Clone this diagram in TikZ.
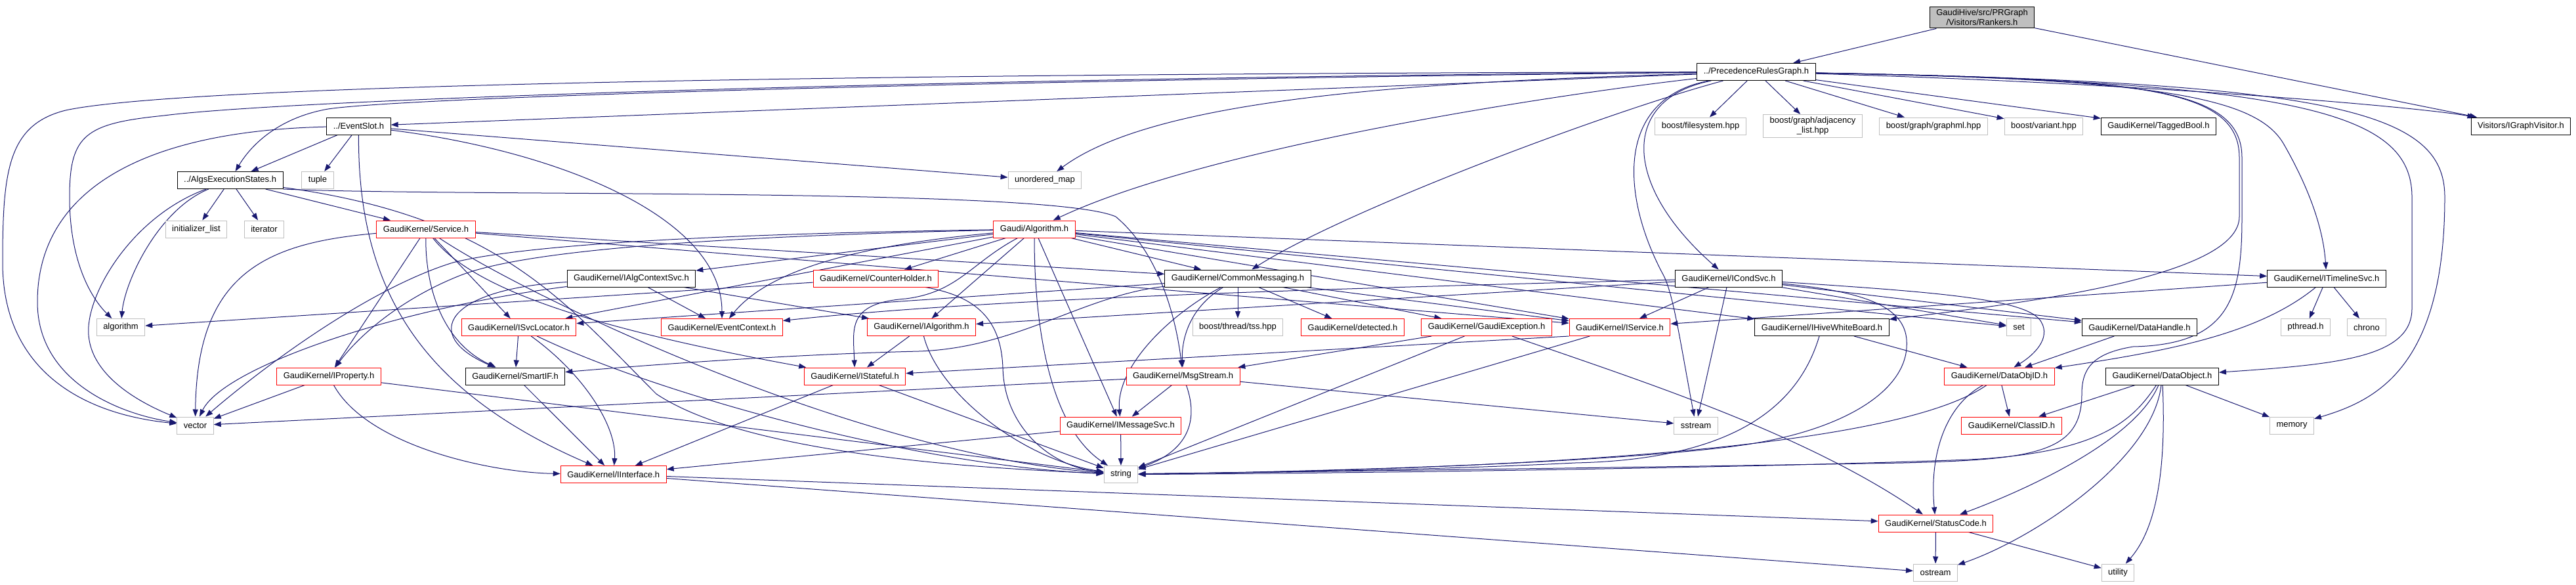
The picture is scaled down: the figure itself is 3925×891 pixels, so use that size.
\documentclass[tikz,border=0pt]{standalone}
\usepackage{fontspec}
\setmainfont{Liberation Sans}
\usetikzlibrary{arrows.meta}
\definecolor{edgeblue}{RGB}{25,25,112}
\definecolor{boxgray}{RGB}{191,191,191}
\pgfdeclarelayer{edges}
\pgfsetlayers{edges,main}

\begin{document}
\begin{tikzpicture}[
			x=1pt, y=-1pt,
			every node/.style={
				draw=black,
				fill=white,
				rectangle,
				line width=1pt,
				minimum height=26pt,
				inner xsep=10pt,
				inner ysep=4pt,
				font=\fontsize{13}{15}\selectfont,
				align=center
			},
			syshdr/.style={draw=boxgray},
			cuthdr/.style={draw=red},
			roothdr/.style={fill=boxgray},
			arrow/.style={-{Triangle[length=11pt,width=8pt]}, line width=1pt, color=edgeblue}
			]
			\useasboundingbox (0,0) rectangle (3925,891);
			
			% -------- Top --------
			\node[roothdr] (top) at (3020,26.7) {GaudiHive/src/PRGraph\\/Visitors/Rankers.h};
			\node (prg) at (2676,109.5) {../PrecedenceRulesGraph.h};
			
			% -------- Row 192 --------
			\node (evs) at (546.5,192) {../EventSlot.h};
			\node[syshdr] (fsys) at (2591,192) {boost/filesystem.hpp};
			\node[syshdr] (adjl) at (2762,192) {boost/graph/adjacency\\\_list.hpp};
			\node[syshdr] (gml) at (2946,192) {boost/graph/graphml.hpp};
			\node[syshdr] (vart) at (3114,192) {boost/variant.hpp};
			\node (tbool) at (3289,192) {GaudiKernel/TaggedBool.h};
			\node (igv) at (3841,192) {Visitors/IGraphVisitor.h};
			
			% -------- Row 274 --------
			\node (ael) at (350.6,274.5) {../AlgsExecutionStates.h};
			\node[syshdr] (tupl) at (484,274.5) {tuple};
			\node[syshdr] (umap) at (1592,274.5) {unordered\_map};
			
			% -------- Row 349 --------
			\node[syshdr] (ilst) at (299,349) {initializer\_list};
			\node[syshdr] (iter) at (402.5,349) {iterator};
			\node[cuthdr] (svc) at (649,349) {GaudiKernel/Service.h};
			\node[cuthdr] (algo) at (1576,349) {Gaudi/Algorithm.h};
			
			% -------- Row 424 --------
			\node (iacs) at (962,424) {GaudiKernel/IAlgContextSvc.h};
			\node[cuthdr] (chld) at (1334.5,424) {GaudiKernel/CounterHolder.h};
			\node (cmsg) at (1886,424) {GaudiKernel/CommonMessaging.h};
			\node (icnd) at (2634,424) {GaudiKernel/ICondSvc.h};
			\node (itl) at (3545,424) {GaudiKernel/ITimelineSvc.h};
			
			% -------- Row 498 --------
			\node[syshdr] (algm) at (184,498.5) {algorithm};
			\node[cuthdr] (isl) at (790.5,498.5) {GaudiKernel/ISvcLocator.h};
			\node[cuthdr] (ectx) at (1100,498.5) {GaudiKernel/EventContext.h};
			\node[cuthdr] (ialg) at (1404,498.5) {GaudiKernel/IAlgorithm.h};
			\node[syshdr] (tss) at (1886,498.5) {boost/thread/tss.hpp};
			\node[cuthdr] (detd) at (2061,498.5) {GaudiKernel/detected.h};
			\node[cuthdr] (gexc) at (2265,498.5) {GaudiKernel/GaudiException.h};
			\node[cuthdr] (isvc) at (2468,498.5) {GaudiKernel/IService.h};
			\node (ihwb) at (2776,498.5) {GaudiKernel/IHiveWhiteBoard.h};
			\node[syshdr] (sett) at (3076,498.5) {set};
			\node (dhdl) at (3260,498.5) {GaudiKernel/DataHandle.h};
			\node[syshdr] (pthr) at (3513,498.5) {pthread.h};
			\node[syshdr] (chro) at (3606,498.5) {chrono};
			
			% -------- Row 573 --------
			\node[cuthdr] (iprp) at (501,573) {GaudiKernel/IProperty.h};
			\node (smif) at (785,573) {GaudiKernel/SmartIF.h};
			\node[cuthdr] (istf) at (1302.6,573) {GaudiKernel/IStateful.h};
			\node[cuthdr] (msgs) at (1802.6,573) {GaudiKernel/MsgStream.h};
			\node[cuthdr] (doid) at (3046.5,573) {GaudiKernel/DataObjID.h};
			\node (dobj) at (3294.5,573) {GaudiKernel/DataObject.h};
			
			% -------- Row 648 --------
			\node[syshdr] (vect) at (297.5,648) {vector};
			\node[cuthdr] (imsv) at (1707.6,648) {GaudiKernel/IMessageSvc.h};
			\node[syshdr] (sstr) at (2584,648) {sstream};
			\node[cuthdr] (clid) at (3065,648) {GaudiKernel/ClassID.h};
			\node[syshdr] (memr) at (3492,648) {memory};
			
			% -------- Bottom rows --------
			\node[cuthdr] (iifc) at (934.7,722.5) {GaudiKernel/IInterface.h};
			\node[syshdr] (strg) at (1708,722.5) {string};
			\node[cuthdr] (stcd) at (2949.5,797) {GaudiKernel/StatusCode.h};
			\node[syshdr] (ostr) at (2949,872) {ostream};
			\node[syshdr] (utl) at (3227,872) {utility};
			
			\begin{pgfonlayer}{edges}
			% -------- Rankers.h --------
			\draw[arrow] (top) -- (prg);
			\draw[arrow] (top) -- (igv);
			
			% -------- PrecedenceRulesGraph.h --------
			\draw[arrow] (prg) -- (evs);
			\draw[arrow] (prg) .. controls (1500,122) and (620,148) .. (500,166) .. controls (420,180) and (380,225) .. (ael);
			\draw[arrow] (prg) .. controls (1500,112) and (300,125) .. (100,168) .. controls (12,190) and (4,260) .. (4,400) .. controls (4,560) and (120,630) .. (vect);
			\draw[arrow] (prg) .. controls (1500,118) and (450,150) .. (250,176) .. controls (130,188) and (106,205) .. (106,300) .. controls (106,400) and (140,455) .. (algm);
			\draw[arrow] (prg) .. controls (2150,125) and (1760,150) .. (umap);
			\draw[arrow] (prg) .. controls (2400,140) and (1850,220) .. (algo);
			\draw[arrow] (prg) .. controls (2450,170) and (2050,320) .. (cmsg);
			\draw[arrow] (prg) -- (fsys);
			\draw[arrow] (prg) -- (adjl);
			\draw[arrow] (prg) -- (gml);
			\draw[arrow] (prg) -- (vart);
			\draw[arrow] (prg) -- (tbool);
			\draw[arrow] (prg) .. controls (3300,128) and (3700,165) .. (igv);
			\draw[arrow] (prg) .. controls (2470,150) and (2470,280) .. (icnd);
			\draw[arrow] (prg) .. controls (2460,150) and (2470,300) .. (2535,420) .. controls (2550,450) and (2560,520) .. (sstr);
			\draw[arrow] (prg) .. controls (3300,120) and (3440,150) .. (3480,220) .. controls (3520,290) and (3540,350) .. (itl);
			\draw[arrow] (prg) .. controls (3500,125) and (3675,170) .. (3675,300) -- (3675,470) .. controls (3675,545) and (3560,555) .. (dobj);
			\draw[arrow] (prg) .. controls (3560,125) and (3725,170) .. (3725,300) .. controls (3725,560) and (3620,610) .. (memr);
			\draw[arrow] (prg) .. controls (3250,120) and (3412,130) .. (3412,240) -- (3412,330) .. controls (3412,420) and (3100,460) .. (ihwb);
			\draw[arrow] (prg) .. controls (3250,120) and (3416,130) .. (3416,240) -- (3416,330) .. controls (3416,450) and (3400,525) .. (3250,528) .. controls (3190,538) and (3172,560) .. (3172,600) .. controls (3172,690) and (3100,700) .. (2900,705) .. controls (2500,712) and (2000,718) .. (strg);
			
			% -------- EventSlot.h --------
			\draw[arrow] (evs) -- (ael);
			\draw[arrow] (evs) -- (tupl);
			\draw[arrow] (evs) -- (umap);
			\draw[arrow] (evs) .. controls (200,200) and (57,300) .. (57,460) .. controls (57,580) and (180,630) .. (vect);
			\draw[arrow] (evs) .. controls (850,230) and (1100,330) .. (ectx);
			\draw[arrow] (evs) .. controls (545,450) and (650,600) .. (iifc);
			
			% -------- AlgsExecutionStates.h --------
			\draw[arrow] (ael) -- (ilst);
			\draw[arrow] (ael) -- (iter);
			\draw[arrow] (ael) -- (svc);
			\draw[arrow] (ael) .. controls (240,320) and (190,430) .. (algm);
			\draw[arrow] (ael) .. controls (200,330) and (130,450) .. (135,510) .. controls (140,580) and (230,620) .. (vect);
			\draw[arrow] (ael.south east) .. controls (700,300) and (1600,285) .. (1700,330) .. controls (1760,380) and (1790,470) .. (msgs);
			\draw[arrow] (ael) .. controls (760,330) and (860,460) .. (1000,600) .. controls (1150,700) and (1550,715) .. (strg);
			
			% -------- Service.h --------
			\draw[arrow] (svc) .. controls (400,370) and (300,420) .. (vect);
			\draw[arrow] (svc) -- (iprp);
			\draw[arrow] (svc) .. controls (648,430) and (670,520) .. (smif);
			\draw[arrow] (svc) -- (isl);
			\draw[arrow] (svc) .. controls (720,440) and (900,500) .. (istf);
			\draw[arrow] (svc) .. controls (800,450) and (1300,690) .. (strg);
			\draw[arrow] (svc) -- (cmsg);
			\draw[arrow] (svc) -- (isvc);
			
			% -------- Algorithm.h --------
			\draw[arrow] (algo) -- (iacs);
			\draw[arrow] (algo) -- (chld);
			\draw[arrow] (algo) -- (cmsg);
			\draw[arrow] (algo) .. controls (1350,370) and (1180,400) .. (ectx);
			\draw[arrow] (algo) -- (ialg);
			\draw[arrow] (algo) .. controls (1480,400) and (1460,445) .. (1380,455) .. controls (1290,462) and (1300,500) .. (istf);
			\draw[arrow] (algo) -- (isl);
			\draw[arrow] (algo) .. controls (1100,360) and (800,380) .. (700,420) .. controls (600,460) and (540,520) .. (iprp);
			\draw[arrow] (algo) .. controls (1100,356) and (800,372) .. (690,400) .. controls (560,440) and (400,560) .. (vect);
			\draw[arrow] (algo) .. controls (1576,500) and (1600,650) .. (strg);
			\draw[arrow] (algo) -- (imsv);
			\draw[arrow] (algo) -- (isvc);
			\draw[arrow] (algo) -- (ihwb);
			\draw[arrow] (algo) -- (sett);
			\draw[arrow] (algo) -- (dhdl);
			\draw[arrow] (algo) -- (itl);
			
			% -------- IAlgContextSvc.h --------
			\draw[arrow] (iacs) -- (ectx);
			\draw[arrow] (iacs) -- (ialg);
			\draw[arrow] (iacs) .. controls (680,440) and (640,510) .. (smif);
			\draw[arrow] (iacs) .. controls (600,470) and (340,560) .. (vect);
			
			% -------- CounterHolder.h --------
			\draw[arrow] (chld) -- (algm);
			\draw[arrow] (chld) .. controls (1480,450) and (1525,480) .. (1528,560) .. controls (1530,650) and (1600,710) .. (strg);
			
			% -------- CommonMessaging.h --------
			\draw[arrow] (cmsg) -- (tss);
			\draw[arrow] (cmsg) -- (detd);
			\draw[arrow] (cmsg) -- (gexc);
			\draw[arrow] (cmsg) -- (isvc);
			\draw[arrow] (cmsg) .. controls (1810,470) and (1800,520) .. (msgs);
			\draw[arrow] (cmsg) .. controls (1780,480) and (1700,560) .. (imsv);
			\draw[arrow] (cmsg) -- (isl);
			\draw[arrow] (cmsg) .. controls (1650,450) and (1550,530) .. (1400,535) .. controls (1200,540) and (1000,555) .. (smif);
			
			% -------- ICondSvc.h --------
			\draw[arrow] (icnd) -- (isvc);
			\draw[arrow] (icnd) -- (sstr);
			\draw[arrow] (icnd) -- (sett);
			\draw[arrow] (icnd) -- (dhdl);
			\draw[arrow] (icnd) .. controls (2950,445) and (3090,455) .. (3110,490) .. controls (3125,515) and (3100,540) .. (doid);
			\draw[arrow] (icnd) -- (ialg);
			\draw[arrow] (icnd) .. controls (2000,440) and (1500,455) .. (ectx);
			\draw[arrow] (icnd) .. controls (2850,445) and (2910,470) .. (2905,530) .. controls (2900,600) and (2800,660) .. (2640,680) .. controls (2400,710) and (1900,720) .. (strg);
			
			% -------- ITimelineSvc.h --------
			\draw[arrow] (itl) -- (pthr);
			\draw[arrow] (itl) -- (chro);
			\draw[arrow] (itl) -- (isvc);
			\draw[arrow] (itl) .. controls (3440,510) and (3300,535) .. (doid);
			
			% -------- IHiveWhiteBoard.h, DataHandle.h --------
			\draw[arrow] (ihwb) -- (doid);
			\draw[arrow] (ihwb) .. controls (2740,620) and (2640,700) .. (2400,705) .. controls (2100,720) and (1800,720) .. (strg);
			\draw[arrow] (dhdl) -- (doid);
			
			% -------- DataObjID.h, DataObject.h --------
			\draw[arrow] (doid) -- (clid);
			\draw[arrow] (doid) .. controls (2960,620) and (2940,700) .. (stcd);
			\draw[arrow] (doid) .. controls (2950,640) and (2700,710) .. (strg);
			\draw[arrow] (dobj) -- (clid);
			\draw[arrow] (dobj) -- (memr);
			\draw[arrow] (dobj) .. controls (3250,680) and (3050,760) .. (stcd);
			\draw[arrow] (dobj) .. controls (3280,700) and (3100,820) .. (ostr);
			\draw[arrow] (dobj) .. controls (3300,700) and (3290,800) .. (utl);
			\draw[arrow] (dobj) .. controls (3250,640) and (3200,690) .. (3000,700) .. controls (2600,715) and (1900,722) .. (strg);
			
			% -------- lower headers --------
			\draw[arrow] (isl) -- (smif);
			\draw[arrow] (isl) .. controls (890,570) and (940,650) .. (iifc);
			\draw[arrow] (isl) .. controls (1000,600) and (1400,710) .. (strg);
			\draw[arrow] (smif) -- (iifc);
			\draw[arrow] (iprp) -- (vect);
			\draw[arrow] (iprp) .. controls (560,680) and (750,720) .. (iifc);
			\draw[arrow] (iprp) -- (strg);
			\draw[arrow] (istf) -- (iifc);
			\draw[arrow] (istf) -- (strg);
			\draw[arrow] (ialg) -- (istf);
			\draw[arrow] (ialg) .. controls (1430,600) and (1560,700) .. (strg);
			\draw[arrow] (msgs) -- (imsv);
			\draw[arrow] (msgs) .. controls (1830,650) and (1800,690) .. (strg);
			\draw[arrow] (msgs) -- (sstr);
			\draw[arrow] (msgs) -- (vect);
			\draw[arrow] (imsv) -- (strg);
			\draw[arrow] (imsv) -- (iifc);
			\draw[arrow] (gexc) -- (msgs);
			\draw[arrow] (gexc) -- (strg);
			\draw[arrow] (gexc) .. controls (2500,580) and (2750,660) .. (stcd);
			\draw[arrow] (isvc.south west) -- (istf);
			\draw[arrow] (isvc) -- (strg);
			\draw[arrow] (iifc) -- (stcd);
			\draw[arrow] (iifc) -- (ostr);
			\draw[arrow] (stcd) -- (ostr);
			\draw[arrow] (stcd) -- (utl);
			\end{pgfonlayer}
			
	\end{tikzpicture}
\end{document}
